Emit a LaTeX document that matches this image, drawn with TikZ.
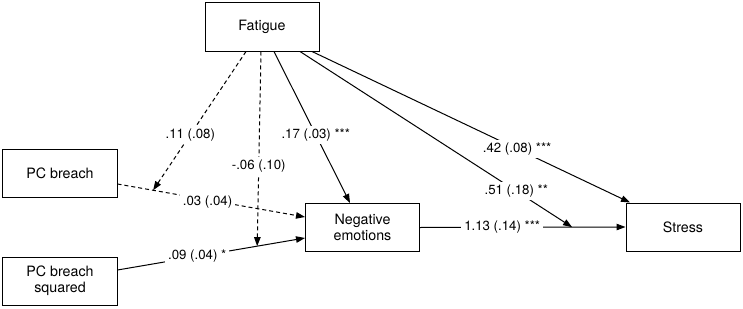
\documentclass[tikz,border=0pt]{standalone}
\usepackage{fontspec}
\setmainfont{TeX Gyre Heros}
\usetikzlibrary{arrows.meta,calc}
\begin{document}
\begin{tikzpicture}[x=1bp,y=1bp,
  box/.style={draw, line width=1bp, minimum width=114bp, minimum height=48bp, inner sep=0pt, align=center, font=\fontsize{14.3}{16.5}\selectfont},
  conn/.style={line width=1bp, -{Triangle[length=9bp,width=6.5bp]}},
  dsh/.style={dash pattern=on 4bp off 3bp},
  lbl/.style={fill=white, inner sep=3bp, font=\fontsize{13.3}{15}\selectfont}]
\useasboundingbox (0,0) rectangle (743,308);

\node[box] (fat) at (262,281) {Fatigue};
\node[box] (pcb) at (60,134.5) {PC breach};
\node[box] (pcbs) at (60,27) {PC breach\\squared};
\node[box] (ne) at (362.5,80.5) {Negative\\emotions};
\node[box] (st) at (683,81) {Stress};

\coordinate (f1) at ([xshift=-16bp]fat.south);
\coordinate (f2) at ([xshift=-1bp]fat.south);
\coordinate (f3) at ([xshift=12bp]fat.south);
\coordinate (f4) at ([xshift=38bp]fat.south);
\coordinate (f5) at ([xshift=50bp]fat.south);
\coordinate (pcbo) at ([yshift=-10.5bp]pcb.east);
\coordinate (nei1) at ([yshift=10.5bp]ne.west);
\coordinate (pcbso) at ([yshift=11bp]pcbs.east);
\coordinate (nei2) at ([yshift=-10.5bp]ne.west);
\coordinate (netop) at ([xshift=-12.5bp]ne.north);
\coordinate (sttop) at ([xshift=-53bp]st.north);
\coordinate (m1) at ($(pcbo)!0.19!(nei1)$);
\coordinate (m2) at ($(pcbso)!0.745!(nei2)$);
\coordinate (m3) at ($(ne.east)!0.74!(st.west)$);

\draw[conn,dsh] (pcbo) -- node[lbl,pos=0.48,yshift=-2bp] {.03 (.04)} (nei1);
\draw[conn] (pcbso) -- node[lbl,pos=0.425] {.09 (.04) *} (nei2);
\draw[conn] (ne.east) -- node[lbl,pos=0.40] {1.13 (.14) ***} (st.west);
\draw[conn,dsh] (f1) -- node[lbl,pos=0.60] {.11 (.08)} (m1);
\draw[conn,dsh] (f2) -- node[lbl,pos=0.59] {-.06 (.10)} (m2);
\draw[conn] (f3) -- node[lbl,pos=0.55] {.17 (.03) ***} (netop);
\draw[conn] (f4) -- node[lbl,pos=0.795] {.51 (.18) **} (m3);
\draw[conn] (f5) -- node[lbl,pos=0.645] {.42 (.08) ***} (sttop);
\end{tikzpicture}
\end{document}
